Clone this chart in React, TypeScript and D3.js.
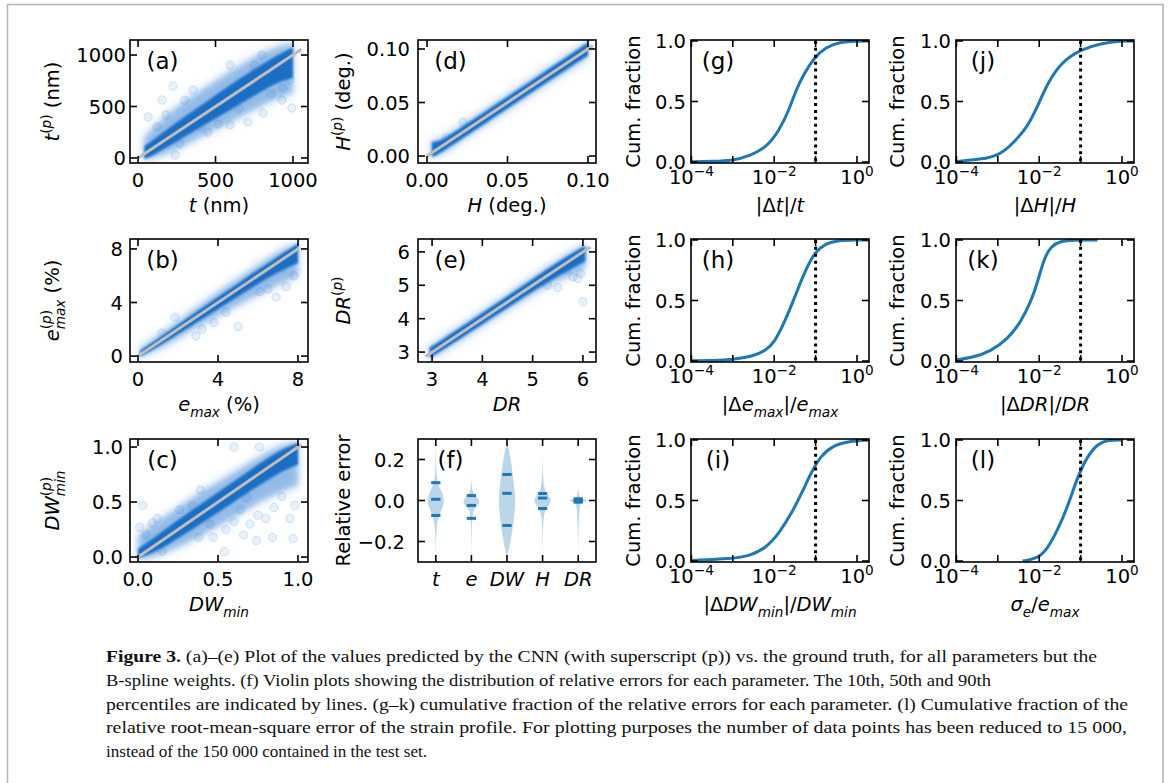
import React from "react";
import * as d3 from "d3";

const W = 1170, H = 783;
const FONT = "'DejaVu Sans', sans-serif";
const TFS = 19.5; // tick font size
const LFS = 19.5; // axis label font size
const PFS = 23; // panel label size
const PW = 178, PH = 123;
const COLX = [130, 418, 691, 956];
const ROWY = [40, 239, 439];
const C0 = "#1f77b4";
const CORE = "#196bc4";
const HALO = "#2a7ad0";

// ---------- (a) t ----------
const tBandX = [40, 100, 200, 300, 400, 500, 600, 700, 800, 900, 1000];
const tCoreLo = [-10, 25, 115, 205, 295, 385, 470, 560, 650, 735, 780];
const tCoreHi = [115, 180, 290, 400, 505, 610, 715, 815, 910, 1000, 1075];
const tHaloLo = [-20, 0, 50, 120, 200, 280, 350, 430, 510, 580, 630];
const tHaloHi = [200, 300, 440, 550, 650, 750, 850, 940, 1020, 1080, 1120];
const tOut: [number, number][] = [
  [155, 563], [226, 699], [594, 320], [710, 350], [807, 437], [929, 563], [993, 485], [935, 680],
  [355, 660], [65, 398], [123, 301], [239, 29], [400, 301], [594, 903], [800, 1000], [300, 560],
  [450, 250], [520, 330], [650, 480], [750, 900], [860, 620], [960, 900], [980, 760], [180, 420], [270, 140],
];
// ---------- (b) e_max ----------
const eBandX = [0.1, 1, 2, 3, 4, 5, 6, 7, 8];
const eCoreLo = [-0.05, 0.7, 1.62, 2.57, 3.5, 4.45, 5.38, 6.28, 6.95];
const eCoreHi = [0.4, 1.28, 2.33, 3.4, 4.42, 5.42, 6.44, 7.45, 8.4];
const eHaloLo = [-0.1, 0.5, 1.3, 2.2, 3.0, 3.8, 4.6, 5.3, 6.0];
const eHaloHi = [0.6, 1.5, 2.6, 3.7, 4.8, 5.8, 6.8, 7.8, 8.5];
const eOut: [number, number][] = [
  [1.85, 2.9], [2.9, 1.5], [6.9, 4.4], [7.4, 5.2], [6.1, 4.8], [3.8, 2.5], [4.4, 3.3], [5.8, 5.9],
  [5.0, 2.2], [7.8, 6.0], [7.2, 6.6], [3.2, 2.0], [6.5, 5.0], [1.2, 1.7],
];
// ---------- (c) DW_min ----------
const dwBandX = [0.0, 0.1, 0.2, 0.3, 0.4, 0.5, 0.6, 0.7, 0.8, 0.9, 1.0];
const dwCoreLo = [-0.01, 0.04, 0.125, 0.215, 0.31, 0.405, 0.5, 0.6, 0.69, 0.78, 0.84];
const dwCoreHi = [0.075, 0.175, 0.285, 0.39, 0.49, 0.59, 0.69, 0.79, 0.89, 0.98, 1.04];
const dwHaloLo = [-0.03, 0.0, 0.06, 0.12, 0.2, 0.28, 0.36, 0.45, 0.53, 0.6, 0.65];
const dwHaloHi = [0.2, 0.3, 0.4, 0.5, 0.6, 0.68, 0.77, 0.86, 0.95, 1.02, 1.05];
const dwOut: [number, number][] = [
  [0.03, 0.47], [0.01, 0.27], [0.09, 0.31], [0.26, 0.43], [0.34, 0.47], [0.39, 0.61], [0.55, 0.25],
  [0.6, 0.32], [0.54, 0.05], [0.38, 0.18], [0.47, 0.18], [0.75, 0.38], [0.8, 0.35], [0.74, 0.15],
  [0.84, 0.18], [0.98, 0.47], [0.97, 0.17], [0.68, 0.54], [0.64, 0.43], [0.6, 1.0], [0.76, 1.0],
  [0.18, 0.15], [0.05, 0.2], [0.12, 0.35], [0.45, 0.3], [0.7, 0.3], [0.9, 0.55], [0.95, 0.35],
  [0.15, 0.05], [0.85, 0.45], [0.66, 0.2],
];
// ---------- (d) H ----------
const hBandX = [0.003, 0.006, 0.01, 0.015, 0.03, 0.05, 0.07, 0.09, 0.1];
const hCoreLo = [-0.001, 0.001, 0.0045, 0.0095, 0.0245, 0.0445, 0.0645, 0.0843, 0.0938];
const hCoreHi = [0.013, 0.0135, 0.0155, 0.0205, 0.0355, 0.0555, 0.0755, 0.0957, 0.1062];
const hHaloLo = [-0.002, 0.0, 0.003, 0.008, 0.023, 0.043, 0.063, 0.082, 0.092];
const hHaloHi = [0.0145, 0.0155, 0.017, 0.022, 0.037, 0.057, 0.077, 0.097, 0.107];
const hOut: [number, number][] = [[0.0224, 0.0318], [0.012, 0.017]];
// ---------- (e) DR ----------
const drBandX = [2.95, 3, 4, 5, 5.5, 6, 6.05];
const drCoreLo = [2.83, 2.86, 3.83, 4.82, 5.27, 5.68, 5.72];
const drCoreHi = [3.13, 3.17, 4.17, 5.18, 5.7, 6.15, 6.18];
const drHaloLo = [2.8, 2.82, 3.78, 4.75, 5.15, 5.45, 5.5];
const drHaloHi = [3.16, 3.2, 4.22, 5.24, 5.75, 6.2, 6.22];
const drOut: [number, number][] = [[6.0, 4.51], [5.8, 5.25], [5.5, 4.93], [5.68, 5.46], [5.9, 5.2], [5.3, 5.0], [5.95, 5.35]];

// ---------- (f) violins ----------
const violinCats = ["t", "e", "DW", "H", "DR"];
const violinProfiles: [number, number][][] = [
  [[0.28, 0], [0.2, 0.03], [0.15, 0.06], [0.1, 0.15], [0.07, 0.35], [0.04, 0.7], [0.0, 1.0], [-0.04, 0.72], [-0.07, 0.4], [-0.1, 0.17], [-0.15, 0.07], [-0.2, 0.03], [-0.28, 0]],
  [[0.12, 0], [0.08, 0.03], [0.05, 0.1], [0.03, 0.3], [0.015, 0.65], [-0.005, 1.0], [-0.025, 0.7], [-0.04, 0.35], [-0.06, 0.15], [-0.09, 0.08], [-0.15, 0.03], [-0.28, 0]],
  [[0.285, 0], [0.25, 0.2], [0.2, 0.42], [0.15, 0.58], [0.1, 0.72], [0.05, 0.86], [0.0, 0.93], [-0.05, 0.88], [-0.1, 0.75], [-0.15, 0.58], [-0.2, 0.4], [-0.25, 0.15], [-0.28, 0]],
  [[0.22, 0], [0.15, 0.03], [0.1, 0.08], [0.06, 0.2], [0.04, 0.4], [0.02, 0.75], [0.0, 1.0], [-0.02, 0.75], [-0.04, 0.4], [-0.06, 0.2], [-0.1, 0.08], [-0.15, 0.03], [-0.25, 0]],
  [[0.06, 0], [0.02, 0.1], [0.01, 0.4], [0.005, 0.8], [0.0, 1.0], [-0.005, 0.8], [-0.01, 0.4], [-0.02, 0.1], [-0.25, 0]],
];
const violinQuantiles = [
  [0.087, 0.006, -0.073],
  [0.024, -0.024, -0.087],
  [0.127, 0.035, -0.122],
  [0.034, 0.012, -0.039],
  [0.008, 0.0, -0.008],
];

// ---------- cumulative curves (log10 x, fraction) ----------
const gLog = [-4.01, -3.5, -3, -2.6, -2.19, -1.88, -1.64, -1.47, -1.28, -1.04, -0.75, -0.43, 0, 0.29];
const gF = [0.002, 0.005, 0.012, 0.05, 0.12, 0.26, 0.43, 0.6, 0.73, 0.86, 0.95, 0.99, 1.0, 1.0];
const jLog = [-4.01, -3.42, -2.93, -2.62, -2.28, -2.04, -1.8, -1.48, -1.0, -0.51, -0.02, 0.29];
const jF = [0.005, 0.02, 0.06, 0.16, 0.29, 0.46, 0.65, 0.82, 0.93, 0.98, 1.0, 1.0];
const hcLog = [-4.01, -3.5, -3, -2.5, -2.2, -2, -1.75, -1.5, -1.25, -1, -0.75, -0.5, 0, 0.29];
const hcF = [0.002, 0.005, 0.01, 0.04, 0.09, 0.15, 0.32, 0.53, 0.75, 0.91, 0.97, 0.995, 1, 1];
const kLog = [-4.01, -3.59, -3.18, -2.76, -2.45, -2.2, -2.04, -1.89, -1.72, -1.48, -1.2, -0.59];
const kF = [0.01, 0.03, 0.08, 0.18, 0.32, 0.49, 0.65, 0.84, 0.95, 0.99, 1.0, 1.0];
const iLog = [-4.01, -3.0, -2.6, -2.19, -1.88, -1.57, -1.32, -1.11, -0.87, -0.6, -0.2, 0.29];
const iF = [0.005, 0.02, 0.04, 0.11, 0.23, 0.4, 0.57, 0.73, 0.87, 0.95, 0.99, 1.0];
const lLog = [-2.4, -2.04, -1.8, -1.55, -1.31, -1.07, -0.83, -0.58, -0.34, 0.0];
const lF = [0.0, 0.02, 0.1, 0.26, 0.45, 0.7, 0.87, 0.97, 1.0, 1.0];
const threshold = 0.1;

const logTicks = [1e-4, 1e-3, 1e-2, 1e-1, 1e0];
const logLabels: Record<string, string> = { "0.0001": "−4", "0.01": "−2", "1": "0" };

const caption = [
  "B-spline weights. (f) Violin plots showing the distribution of relative errors for each parameter. The 10th, 50th and 90th",
  "percentiles are indicated by lines. (g–k) cumulative fraction of the relative errors for each parameter. (l) Cumulative fraction of the",
  "relative root-mean-square error of the strain profile. For plotting purposes the number of data points has been reduced to 15 000,",
  "instead of the 150 000 contained in the test set.",
];
const captionFirst = " (a)–(e) Plot of the values predicted by the CNN (with superscript (p)) vs. the ground truth, for all parameters but the";
const captionWidths = [991, 885, 1022, 1021, 321];

type Seg = { s: string; i?: boolean; v?: "sup" | "sub"; back?: number };

function Rich({ segs, size }: { segs: Seg[]; size: number }) {
  let cur = 0;
  return (
    <>
      {segs.map((g, k) => {
        const target = g.v === "sup" ? -0.42 * size : g.v === "sub" ? 0.3 * size : 0;
        const dy = target - cur;
        cur = target;
        return (
          <tspan key={k} dy={dy !== 0 ? dy : undefined} dx={g.back ? -g.back * size : undefined}
            fontStyle={g.i ? "italic" : "normal"} fontSize={g.v ? size * 0.7 : size}>{g.s}</tspan>
        );
      })}
    </>
  );
}

const sup = (s: string): Seg[] => [{ s: "(", v: "sup" }, { s: "p", i: true, v: "sup" }, { s: ")", v: "sup" }];

const LABELS: Record<string, { x: Seg[]; y: Seg[] }> = {
  a: { x: [{ s: "t", i: true }, { s: " (nm)" }], y: [{ s: "t", i: true }, ...sup("p"), { s: " (nm)" }] },
  d: { x: [{ s: "H", i: true }, { s: " (deg.)" }], y: [{ s: "H", i: true }, ...sup("p"), { s: " (deg.)" }] },
  b: { x: [{ s: "e", i: true }, { s: "max", i: true, v: "sub" }, { s: " (%)" }], y: [{ s: "e", i: true }, ...sup("p"), { s: "max", i: true, v: "sub", back: 0.99 }, { s: " (%)" }] },
  e: { x: [{ s: "DR", i: true }], y: [{ s: "DR", i: true }, ...sup("p")] },
  c: { x: [{ s: "DW", i: true }, { s: "min", i: true, v: "sub" }], y: [{ s: "DW", i: true }, ...sup("p"), { s: "min", i: true, v: "sub", back: 0.99 }] },
};
const CUMY: Seg[] = [{ s: "Cum. fraction" }];
const CUMX: Record<string, Seg[]> = {
  g: [{ s: "|Δ" }, { s: "t", i: true }, { s: "|/" }, { s: "t", i: true }],
  j: [{ s: "|Δ" }, { s: "H", i: true }, { s: "|/" }, { s: "H", i: true }],
  h: [{ s: "|Δ" }, { s: "e", i: true }, { s: "max", i: true, v: "sub" }, { s: "|/" }, { s: "e", i: true }, { s: "max", i: true, v: "sub" }],
  k: [{ s: "|Δ" }, { s: "DR", i: true }, { s: "|/" }, { s: "DR", i: true }],
  i: [{ s: "|Δ" }, { s: "DW", i: true }, { s: "min", i: true, v: "sub" }, { s: "|/" }, { s: "DW", i: true }, { s: "min", i: true, v: "sub" }],
  l: [{ s: "σ", i: true }, { s: "e", i: true, v: "sub" }, { s: "/" }, { s: "e", i: true }, { s: "max", i: true, v: "sub" }],
};
const YLABX = [59, 350, 640, 904];

type Box = { x: number; y: number };

function Axes({ box, xs, ys, xt, yt, xl, yl, xlIsRich = false, gap = 6 }: {
  box: Box; xs: (v: number) => number; ys: (v: number) => number; xt: number[]; yt: number[];
  xl: (v: number, i: number) => React.ReactNode; yl: string[]; xlIsRich?: boolean; gap?: number;
}) {
  const L = 7;
  const bx = box.x, by = box.y, r = box.x + PW, b = box.y + PH;
  return (
    <g>
      {xt.map((v, i) => (
        <g key={"x" + i}>
          <line x1={xs(v)} x2={xs(v)} y1={b} y2={b - L} stroke="#000" strokeWidth={1.6} />
          <line x1={xs(v)} x2={xs(v)} y1={by} y2={by + L} stroke="#000" strokeWidth={1.6} />
          <text x={xs(v)} y={b + (xlIsRich ? 21 : 24)} textAnchor="middle" fontSize={TFS} fontFamily={FONT}>{xl(v, i)}</text>
        </g>
      ))}
      {yt.map((v, i) => (
        <g key={"y" + i}>
          <line x1={bx} x2={bx + L} y1={ys(v)} y2={ys(v)} stroke="#000" strokeWidth={1.6} />
          <line x1={r} x2={r - L} y1={ys(v)} y2={ys(v)} stroke="#000" strokeWidth={1.6} />
          <text x={bx - gap} y={ys(v)} dy="0.36em" textAnchor="end" fontSize={TFS} fontFamily={FONT}>{yl[i]}</text>
        </g>
      ))}
      <rect x={bx} y={by} width={PW} height={PH} fill="none" stroke="#000" strokeWidth={1.6} />
    </g>
  );
}

function YLabel({ x, y, segs }: { x: number; y: number; segs: Seg[] }) {
  return (
    <g transform={`translate(${x},${y}) rotate(-90)`}>
      <text textAnchor="middle" fontSize={LFS} fontFamily={FONT} xmlSpace="preserve" style={{ whiteSpace: "pre" }}>
        <Rich segs={segs} size={LFS} />
      </text>
    </g>
  );
}
function XLabel({ x, y, segs }: { x: number; y: number; segs: Seg[] }) {
  return (
    <text x={x} y={y} textAnchor="middle" fontSize={LFS} fontFamily={FONT} xmlSpace="preserve" style={{ whiteSpace: "pre" }}>
      <Rich segs={segs} size={LFS} />
    </text>
  );
}
function PanelLabel({ box, txt, off }: { box: Box; txt: string; off: number }) {
  return <text x={box.x + off} y={box.y + 29} textAnchor="middle" fontSize={PFS} fontFamily={FONT}>{txt}</text>;
}

function Scatter({ id, col, row, xd, yd, ticks, tickLabels, bandX, coreLo, coreHi, haloLo, haloHi, out, line, gap }: any) {
  const box = { x: COLX[col], y: ROWY[row] };
  const xs = d3.scaleLinear().domain(xd).range([box.x, box.x + PW]);
  const ys = d3.scaleLinear().domain(yd).range([box.y + PH, box.y]);
  const idx = bandX.map((_: number, i: number) => i);
  const core = d3.area<number>().x((i) => xs(bandX[i])).y0((i) => ys(coreLo[i])).y1((i) => ys(coreHi[i])).curve(d3.curveBasis);
  const halo = d3.area<number>().x((i) => xs(bandX[i])).y0((i) => ys(haloLo[i])).y1((i) => ys(haloHi[i])).curve(d3.curveBasis);
  const lab = LABELS[id];
  return (
    <g>
      <clipPath id={"clip" + id}><rect x={box.x} y={box.y} width={PW} height={PH} /></clipPath>
      <g clipPath={`url(#clip${id})`}>
        <path d={halo(idx) || ""} fill={HALO} opacity={0.25} filter="url(#blur3)" />
        <path d={halo(idx) || ""} fill={HALO} opacity={0.35} filter="url(#blur2)" />
        <path d={core(idx) || ""} fill={CORE} opacity={0.95} filter="url(#blur1)" />
        {out.map((p: [number, number], k: number) => (
          <circle key={k} cx={xs(p[0])} cy={ys(p[1])} r={4.2} fill={HALO} fillOpacity={0.1} stroke={HALO} strokeOpacity={0.18} strokeWidth={1} />
        ))}
        <line x1={xs(line[0])} y1={ys(line[0])} x2={xs(line[1])} y2={ys(line[1])} stroke="#bdbdbd" strokeWidth={3} />
      </g>
      <Axes box={box} xs={xs} ys={ys} xt={ticks} yt={ticks} xl={(v, i) => tickLabels[i]} yl={tickLabels} gap={gap} />
      <PanelLabel box={box} txt={`(${id})`} off={32.5} />
      <XLabel x={box.x + PW / 2} y={box.y + PH + 49} segs={lab.x} />
      <YLabel x={YLABX[col]} y={box.y + PH / 2} segs={lab.y} />
    </g>
  );
}

function Cum({ id, col, row, lx, fy }: { id: string; col: number; row: number; lx: number[]; fy: number[] }) {
  const box = { x: COLX[col], y: ROWY[row] };
  const xs = d3.scaleLog().domain([Math.pow(10, -4.01), Math.pow(10, 0.29)]).range([box.x, box.x + PW]);
  const ys = d3.scaleLinear().domain([-0.008, 1.008]).range([box.y + PH, box.y]);
  const pts = lx.map((v, i) => [xs(Math.pow(10, v)), ys(fy[i])] as [number, number]);
  const line = d3.line().curve(d3.curveBasis)(pts) || "";
  return (
    <g>
      <clipPath id={"clip" + id}><rect x={box.x} y={box.y} width={PW} height={PH} /></clipPath>
      <g clipPath={`url(#clip${id})`}>
        <path d={line} fill="none" stroke={C0} strokeWidth={3} />
      </g>
      <line x1={xs(threshold)} x2={xs(threshold)} y1={ys(1)} y2={ys(0)} stroke="#000" strokeWidth={3} strokeDasharray="3 3.9" />
      <Axes box={box} xs={xs} ys={ys} xt={logTicks} yt={[0, 0.5, 1]} xlIsRich gap={5}
        xl={(v) => {
          const e = logLabels[String(v)];
          return e ? <Rich segs={[{ s: "10" }, { s: e, v: "sup" }]} size={TFS} /> : null;
        }}
        yl={["0.0", "0.5", "1.0"]} />
      <PanelLabel box={box} txt={`(${id})`} off={27} />
      <XLabel x={box.x + PW / 2} y={box.y + PH + 49} segs={CUMX[id]} />
      <YLabel x={YLABX[col]} y={box.y + PH / 2} segs={CUMY} />
    </g>
  );
}

function Violin() {
  const box = { x: COLX[1], y: ROWY[2] };
  const xs = d3.scaleLinear().domain([0.5, 5.5]).range([box.x, box.x + PW]);
  const ys = d3.scaleLinear().domain([-0.3, 0.3]).range([box.y + PH, box.y]);
  const hw = xs(1.25) - xs(1);
  const qw = xs(1.13) - xs(1);
  return (
    <g>
      {violinProfiles.map((prof, i) => {
        const cx = xs(i + 1);
        const a = d3.area<[number, number]>().y((d) => ys(d[0])).x0((d) => cx - d[1] * hw).x1((d) => cx + d[1] * hw).curve(d3.curveBasis);
        return <path key={i} d={a(prof) || ""} fill={C0} fillOpacity={0.3} />;
      })}
      {violinQuantiles.map((qs, i) => qs.map((q, k) => (
        <line key={i + "_" + k} x1={xs(i + 1) - qw} x2={xs(i + 1) + qw} y1={ys(q)} y2={ys(q)} stroke={C0} strokeWidth={3} />
      )))}
      <Axes box={box} xs={xs} ys={ys} xt={[1, 2, 3, 4, 5]} yt={[-0.2, 0, 0.2]} gap={13}
        xl={(v, i) => <tspan fontStyle="italic">{violinCats[i]}</tspan>}
        yl={["−0.2", "0.0", "0.2"]} />
      <PanelLabel box={box} txt="(f)" off={32.5} />
      <YLabel x={YLABX[1]} y={box.y + PH / 2} segs={[{ s: "Relative error" }]} />
    </g>
  );
}

export default function App() {
  return (
    <svg width={W} height={H} viewBox={`0 0 ${W} ${H}`} style={{ position: "absolute", left: 0, top: 0, background: "#fff" }}>
      <defs>
        <filter id="blur1" x="-5%" y="-5%" width="110%" height="110%"><feGaussianBlur stdDeviation={1.2} /></filter>
        <filter id="blur2" x="-10%" y="-10%" width="120%" height="120%"><feGaussianBlur stdDeviation={2.5} /></filter>
        <filter id="blur3" x="-20%" y="-20%" width="140%" height="140%"><feGaussianBlur stdDeviation={6} /></filter>
      </defs>
      <rect x={0} y={0} width={W} height={H} fill="#fff" />
      <rect x={7.5} y={4.5} width={1155.5} height={820} fill="none" stroke="#b3b3b3" strokeWidth={1.5} />

      <Scatter id="a" col={0} row={0} xd={[-52, 1097]} yd={[-49, 1146]} ticks={[0, 500, 1000]} tickLabels={["0", "500", "1000"]} gap={4}
        bandX={tBandX} coreLo={tCoreLo} coreHi={tCoreHi} haloLo={tHaloLo} haloHi={tHaloHi} out={tOut} line={[0, 1055]} />
      <Scatter id="b" col={0} row={1} xd={[-0.4, 8.5]} yd={[-0.44, 8.74]} ticks={[0, 4, 8]} tickLabels={["0", "4", "8"]} gap={7}
        bandX={eBandX} coreLo={eCoreLo} coreHi={eCoreHi} haloLo={eHaloLo} haloHi={eHaloHi} out={eOut} line={[0, 8.05]} />
      <Scatter id="c" col={0} row={2} xd={[-0.05, 1.0625]} yd={[-0.045, 1.073]} ticks={[0, 0.5, 1]} tickLabels={["0.0", "0.5", "1.0"]} gap={7}
        bandX={dwBandX} coreLo={dwCoreLo} coreHi={dwCoreHi} haloLo={dwHaloLo} haloHi={dwHaloHi} out={dwOut} line={[0, 1.02]} />
      <Scatter id="d" col={1} row={0} xd={[-0.0056, 0.105]} yd={[-0.0065, 0.1084]} ticks={[0, 0.05, 0.1]} tickLabels={["0.00", "0.05", "0.10"]} gap={8}
        bandX={hBandX} coreLo={hCoreLo} coreHi={hCoreHi} haloLo={hHaloLo} haloHi={hHaloHi} out={hOut} line={[0, 0.103]} />
      <Scatter id="e" col={1} row={1} xd={[2.72, 6.26]} yd={[2.703, 6.386]} ticks={[3, 4, 5, 6]} tickLabels={["3", "4", "5", "6"]} gap={8}
        bandX={drBandX} coreLo={drCoreLo} coreHi={drCoreHi} haloLo={drHaloLo} haloHi={drHaloHi} out={drOut} line={[2.87, 6.15]} />
      <Violin />
      <Cum id="g" col={2} row={0} lx={gLog} fy={gF} />
      <Cum id="h" col={2} row={1} lx={hcLog} fy={hcF} />
      <Cum id="i" col={2} row={2} lx={iLog} fy={iF} />
      <Cum id="j" col={3} row={0} lx={jLog} fy={jF} />
      <Cum id="k" col={3} row={1} lx={kLog} fy={kF} />
      <Cum id="l" col={3} row={2} lx={lLog} fy={lF} />

      <g fontFamily="'Liberation Serif', serif" fontSize={17} fill="#111">
        <text x={106} y={662} textLength={captionWidths[0]} lengthAdjust="spacingAndGlyphs" xmlSpace="preserve" style={{ whiteSpace: "pre" }}>
          <tspan fontWeight="bold">Figure 3.</tspan>{captionFirst}
        </text>
        {caption.map((c, i) => (
          <text key={i} x={106} y={686 + i * 23.5} textLength={captionWidths[i + 1]} lengthAdjust="spacingAndGlyphs">{c}</text>
        ))}
      </g>
    </svg>
  );
}
